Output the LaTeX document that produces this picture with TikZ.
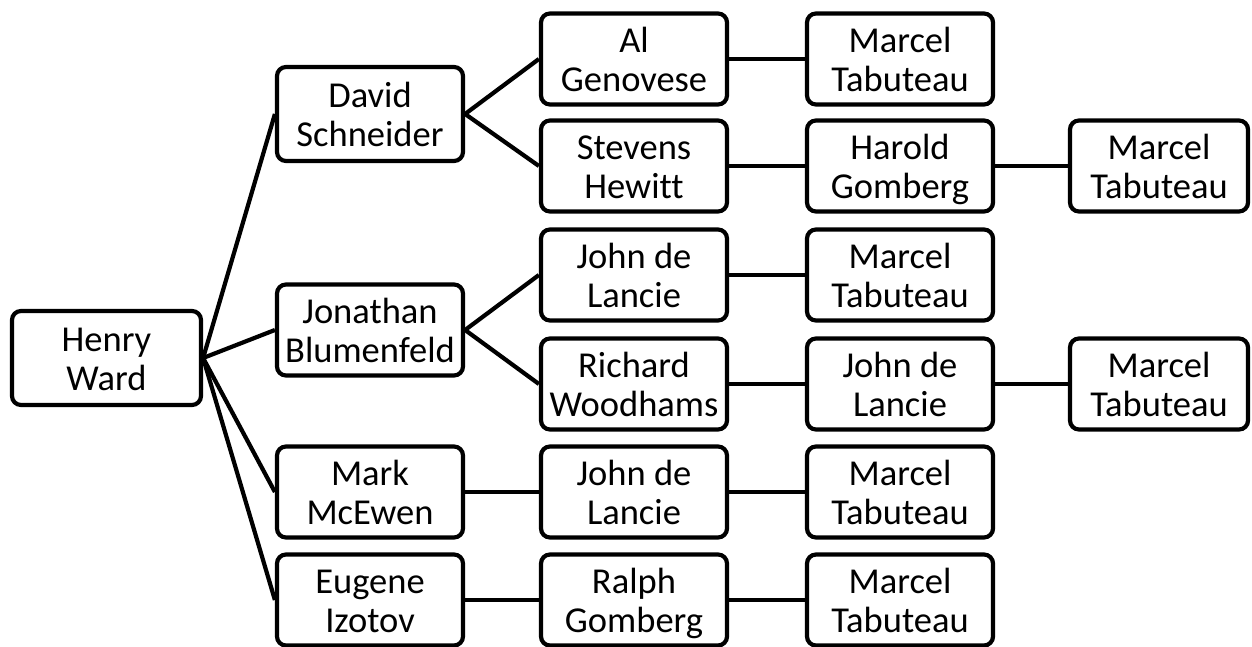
\documentclass[tikz,border=0pt]{standalone}
\usepackage{fontspec}
\setmainfont{Carlito}[RawFeature=-liga]
\newcommand{\twolines}[2]{\rule{0pt}{33pt}#1\\#2\rule[-7pt]{0pt}{7pt}}
\begin{document}
\begin{tikzpicture}[x=1pt,y=-1pt,
  person/.style={draw=black, line width=4.2pt, rounded corners=9pt, fill=white,
    minimum width=186pt, minimum height=91pt, inner sep=0pt, align=center,
    font=\fontsize{36.5}{39}\selectfont},
  link/.style={line width=4.2pt}]
\useasboundingbox (0,0) rectangle (1252,647);
% column 0
\node[person, minimum width=189pt, minimum height=94pt] (hw) at (106.5,358) {\twolines{Henry}{Ward}};
% column 1
\node[person, minimum height=94pt] (ds) at (370,114) {\twolines{David}{Schneider}};
\node[person] (jb) at (370,330) {\twolines{Jonathan}{Blumenfeld}};
\node[person] (mm) at (370,492) {\twolines{Mark}{McEwen}};
\node[person] (ei) at (370,600) {\twolines{Eugene}{Izotov}};
% column 2
\node[person] (ag) at (634,59) {\twolines{Al}{Genovese}};
\node[person] (sh) at (634,166) {\twolines{Stevens}{Hewitt}};
\node[person] (jl1) at (634,275) {\twolines{John de}{Lancie}};
\node[person] (rw) at (634,384) {\twolines{Richard}{Woodhams}};
\node[person] (jl2) at (634,492) {\twolines{John de}{Lancie}};
\node[person] (rg) at (634,600) {\twolines{Ralph}{Gomberg}};
% column 3
\node[person] (mt1) at (900,59) {\twolines{Marcel}{Tabuteau}};
\node[person] (hg) at (900,166) {\twolines{Harold}{Gomberg}};
\node[person] (mt2) at (900,275) {\twolines{Marcel}{Tabuteau}};
\node[person] (jl3) at (900,384) {\twolines{John de}{Lancie}};
\node[person] (mt3) at (900,492) {\twolines{Marcel}{Tabuteau}};
\node[person] (mt4) at (900,600) {\twolines{Marcel}{Tabuteau}};
% column 4
\node[person, minimum width=178pt] (mt5) at (1159,166) {\twolines{Marcel}{Tabuteau}};
\node[person, minimum width=178pt] (mt6) at (1159,384) {\twolines{Marcel}{Tabuteau}};
% connectors
\draw[link] (hw.east) -- (ds.west);
\draw[link] (hw.east) -- (jb.west);
\draw[link] (hw.east) -- (mm.west);
\draw[link] (hw.east) -- (ei.west);
\draw[link] (ds.east) -- (ag.west);
\draw[link] (ds.east) -- (sh.west);
\draw[link] (jb.east) -- (jl1.west);
\draw[link] (jb.east) -- (rw.west);
\draw[link] (mm.east) -- (jl2.west);
\draw[link] (ei.east) -- (rg.west);
\draw[link] (ag.east) -- (mt1.west);
\draw[link] (sh.east) -- (hg.west);
\draw[link] (jl1.east) -- (mt2.west);
\draw[link] (rw.east) -- (jl3.west);
\draw[link] (jl2.east) -- (mt3.west);
\draw[link] (rg.east) -- (mt4.west);
\draw[link] (hg.east) -- (mt5.west);
\draw[link] (jl3.east) -- (mt6.west);
\end{tikzpicture}
\end{document}
